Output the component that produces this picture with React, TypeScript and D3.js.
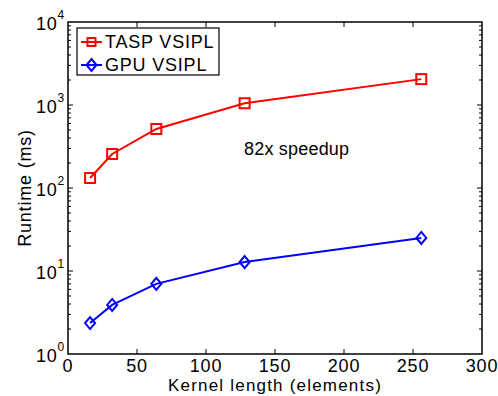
import * as d3 from "d3"

const kernelLengths = [16, 32, 64, 128, 256]
const taspRuntime = [132, 257, 514, 1050, 2050]
const gpuRuntime = [2.36, 3.9, 7.0, 12.8, 25]
const xTicks = [0, 50, 100, 150, 200, 250, 300]
const yDecades = [0, 1, 2, 3, 4]

const W = 498
const H = 396
const margin = { top: 22, right: 16, bottom: 42, left: 68 }
const FONT = "Liberation Sans, Arial, Helvetica, sans-serif"
const FS = 18
const LS = 0.8

export default function App() {
  const innerW = W - margin.left - margin.right
  const innerH = H - margin.top - margin.bottom

  const x = d3.scaleLinear().domain([0, 300]).range([0, innerW])
  const y = d3.scaleLog().domain([1, 10000]).range([innerH, 0])

  const line = d3.line<[number, number]>()
    .x(d => x(d[0]))
    .y(d => y(d[1]))

  const tasp: [number, number][] = kernelLengths.map((k, i) => [k, taspRuntime[i]])
  const gpu: [number, number][] = kernelLengths.map((k, i) => [k, gpuRuntime[i]])

  // minor ticks 2..9 inside each decade
  const minor: number[] = []
  for (let e = 0; e < 4; e++) {
    for (let m = 2; m <= 9; m++) minor.push(m * Math.pow(10, e))
  }

  const sq = 5
  const dm = 6

  return (
    <svg width={W} height={H} style={{ position: "absolute", left: 0, top: 0, background: "#fff" }}>
      <g transform={`translate(${margin.left},${margin.top})`} fontFamily={FONT}>
        {/* ticks */}
        {xTicks.slice(1, -1).map(t => (
          <g key={"xt" + t}>
            <line x1={x(t)} x2={x(t)} y1={innerH} y2={innerH - 5} stroke="#000" />
            <line x1={x(t)} x2={x(t)} y1={0} y2={5} stroke="#000" />
          </g>
        ))}
        {minor.map((v, i) => (
          <g key={"mt" + i}>
            <line x1={0} x2={3} y1={y(v)} y2={y(v)} stroke="#000" />
            <line x1={innerW} x2={innerW - 3} y1={y(v)} y2={y(v)} stroke="#000" />
          </g>
        ))}
        {yDecades.slice(1, -1).map(e => (
          <g key={"yt" + e}>
            <line x1={0} x2={5} y1={y(Math.pow(10, e))} y2={y(Math.pow(10, e))} stroke="#000" />
            <line x1={innerW} x2={innerW - 5} y1={y(Math.pow(10, e))} y2={y(Math.pow(10, e))} stroke="#000" />
          </g>
        ))}
        <rect x={0} y={0} width={innerW} height={innerH} fill="none" stroke="#000" strokeWidth={1.5} />

        {/* tick labels */}
        {xTicks.map(t => (
          <text key={"xl" + t} x={x(t)} y={innerH + 18} textAnchor="middle" fontSize={FS} letterSpacing={LS}>{t}</text>
        ))}
        {yDecades.map(e => (
          <text key={"yl" + e} x={-3} y={y(Math.pow(10, e)) + 8} textAnchor="end" fontSize={FS} letterSpacing={LS}>
            10
            <tspan dy={-11} fontSize={12}>{e}</tspan>
          </text>
        ))}

        {/* axis labels */}
        <text x={innerW / 2} y={innerH + 37} textAnchor="middle" fontSize={17} letterSpacing={1.2}>Kernel length (elements)</text>
        <text transform={`translate(${-37},${innerH / 2}) rotate(-90)`} textAnchor="middle" fontSize={FS} letterSpacing={LS}>Runtime (ms)</text>

        {/* series */}
        <path d={line(tasp) ?? ""} fill="none" stroke="#ff0000" strokeWidth={2} />
        {tasp.map((d, i) => (
          <rect key={"ts" + i} x={x(d[0]) - sq} y={y(d[1]) - sq} width={2 * sq} height={2 * sq}
            fill="none" stroke="#ff0000" strokeWidth={2} />
        ))}
        <path d={line(gpu) ?? ""} fill="none" stroke="#0000ff" strokeWidth={2} />
        {gpu.map((d, i) => (
          <path key={"gd" + i}
            d={`M${x(d[0])},${y(d[1]) - dm}L${x(d[0]) + dm - 1},${y(d[1])}L${x(d[0])},${y(d[1]) + dm}L${x(d[0]) - dm + 1},${y(d[1])}Z`}
            fill="none" stroke="#0000ff" strokeWidth={2} />
        ))}

        <text x={176} y={133} fontSize={FS} letterSpacing={0.2}>82x speedup</text>

        {/* legend */}
        <g transform="translate(9,6)">
          <rect x={0} y={0} width={142} height={47} fill="#fff" stroke="#000" strokeWidth={1.2} />
          <line x1={4} x2={25} y1={14} y2={14} stroke="#ff0000" strokeWidth={2} />
          <rect x={14.5 - 4} y={14 - 4} width={8} height={8} fill="none" stroke="#ff0000" strokeWidth={2} />
          <text x={28} y={20} fontSize={FS} letterSpacing={LS}>TASP VSIPL</text>
          <line x1={4} x2={25} y1={37} y2={37} stroke="#0000ff" strokeWidth={2} />
          <path d={`M14.5,${37 - 6}L${14.5 + 5},37L14.5,${37 + 6}L${14.5 - 5},37Z`} fill="none" stroke="#0000ff" strokeWidth={2} />
          <text x={28} y={43} fontSize={FS} letterSpacing={LS}>GPU VSIPL</text>
        </g>
      </g>
    </svg>
  )
}
